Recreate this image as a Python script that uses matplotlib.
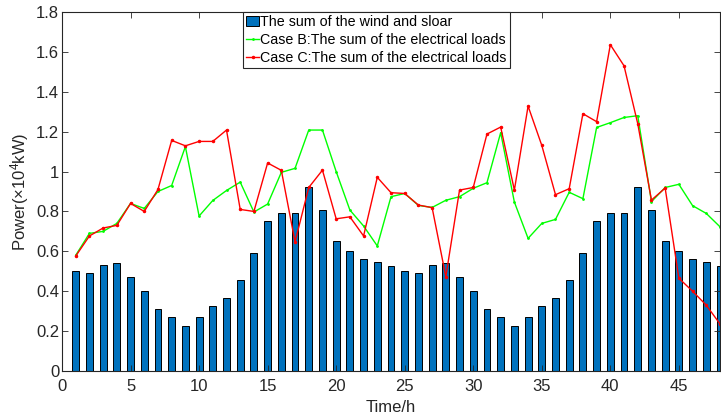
import numpy as np
from matplotlib import pyplot as plt
from matplotlib.ticker import FormatStrFormatter

plt.rcParams['font.family'] = ['Liberation Sans', 'DejaVu Sans']
plt.rcParams['mathtext.default'] = 'regular'

horas = np.arange(1, 49)

# suma eolica + solar
renovables = [0.50, 0.49, 0.53, 0.54, 0.47, 0.40, 0.31, 0.27, 0.225, 0.27, 0.325, 0.365,
              0.455, 0.59, 0.75, 0.79, 0.79, 0.92, 0.805, 0.65, 0.60, 0.56, 0.545, 0.525,
              0.50, 0.49, 0.53, 0.54, 0.47, 0.40, 0.31, 0.27, 0.225, 0.27, 0.325, 0.365,
              0.455, 0.59, 0.75, 0.79, 0.79, 0.92, 0.805, 0.65, 0.60, 0.56, 0.545, 0.525]

cargaB = [0.58, 0.69, 0.70, 0.74, 0.84, 0.815, 0.90, 0.93, 1.125, 0.777, 0.855, 0.905,
          0.947, 0.797, 0.837, 0.996, 1.016, 1.208, 1.208, 1.0, 0.807, 0.727, 0.627, 0.874,
          0.89, 0.83, 0.82, 0.856, 0.874, 0.916, 0.944, 1.195, 0.847, 0.665, 0.74, 0.76,
          0.896, 0.864, 1.221, 1.245, 1.271, 1.28, 0.849, 0.92, 0.936, 0.829, 0.79, 0.723]

cargaC = [0.576, 0.677, 0.717, 0.73, 0.84, 0.80, 0.91, 1.156, 1.129, 1.151, 1.151, 1.208,
          0.81, 0.80, 1.043, 1.006, 0.647, 0.92, 1.007, 0.763, 0.773, 0.677, 0.971, 0.894,
          0.89, 0.832, 0.819, 0.473, 0.907, 0.92, 1.188, 1.223, 0.907, 1.328, 1.131, 0.884,
          0.914, 1.29, 1.25, 1.636, 1.53, 1.24, 0.857, 0.917, 0.465, 0.40, 0.33, 0.236]

gris = '#262626'

fig = plt.figure(figsize=(7.21, 4.17), dpi=100)
ax = fig.add_axes([0.086, 0.1103, 0.9126, 0.861])

barras = ax.bar(horas, renovables, width=0.5, color='#0072BD', edgecolor='black', linewidth=0.7,
                label='The sum of the wind and sloar')
lineaB, = ax.plot(horas, cargaB, color='#00FF00', linewidth=1, marker='.', markersize=2,
                  label='Case B:The sum of the electrical loads')
lineaC, = ax.plot(horas, cargaC, color='#FF0000', linewidth=1, marker='.', markersize=3,
                  label='Case C:The sum of the electrical loads')

ax.set_xlim(0, 48)
ax.set_ylim(0, 1.8)
ax.set_xticks(np.arange(0, 46, 5))
ax.set_yticks(np.arange(0, 1.81, 0.2))
ax.yaxis.set_major_formatter(FormatStrFormatter('%g'))
ax.tick_params(direction='in', top=True, right=True, labelsize=12, colors=gris, length=4, width=0.6)
ax.tick_params(axis='x', pad=6)
ax.tick_params(axis='y', pad=2)
for lado in ax.spines.values():
    lado.set_color(gris)
    lado.set_linewidth(0.8)

ax.set_xlabel('Time/h', fontsize=12, color=gris, labelpad=4)
ax.set_ylabel('Power(×10$^{4}$kW)', fontsize=12, color=gris, labelpad=4)

leg = ax.legend([barras, lineaB, lineaC],
                [barras.get_label(), lineaB.get_label(), lineaC.get_label()],
                loc='upper center', bbox_to_anchor=(0.478, 1.0), borderaxespad=0,
                fontsize=10.3, fancybox=False, edgecolor=gris, framealpha=1,
                handlelength=0.9, handletextpad=0.1, borderpad=0.2, labelspacing=0.3)
leg.get_frame().set_linewidth(0.8)

plt.savefig('out.png', dpi=100)
